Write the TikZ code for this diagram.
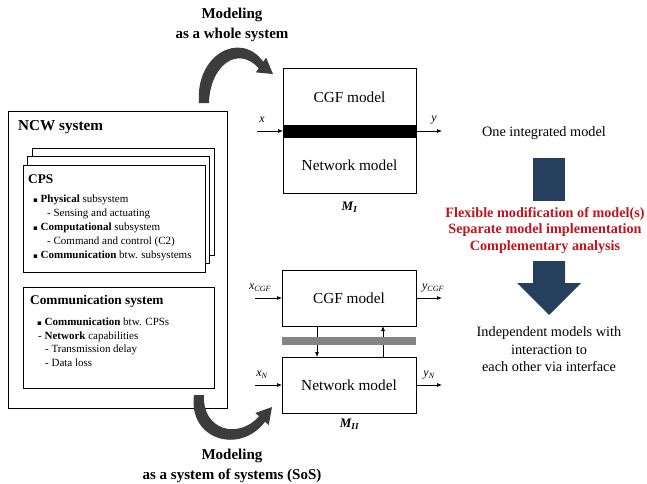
\documentclass[tikz,border=0pt]{standalone}
\usepackage{fontspec}
\setmainfont{Liberation Serif}
\newfontfamily\symfont{DejaVu Sans}
\usetikzlibrary{arrows.meta}
\definecolor{navy}{HTML}{263F5E}
\definecolor{redtxt}{HTML}{C0141B}
\definecolor{arrowgray}{HTML}{3C3C3C}
\definecolor{bargray}{HTML}{858585}
\newcommand{\bul}{{\symfont\fontsize{7}{7}\selectfont ▪}}
\begin{document}
\begin{tikzpicture}[x=1pt,y=-1pt,
  box/.style={draw, line width=0.8pt, fill=white, inner sep=0pt, outer sep=0pt, anchor=north west},
  txt/.style={font=\fontsize{11}{13}\selectfont, anchor=mid west, inner sep=0pt},
  ttl/.style={font=\fontsize{13.3}{15}\bfseries\selectfont, anchor=mid west, inner sep=0pt},
  model/.style={font=\fontsize{15.3}{18}\selectfont, inner sep=0pt},
  lab/.style={font=\fontsize{12}{14}\itshape\selectfont, inner sep=0pt},
  mlab/.style={font=\fontsize{13}{15}\bfseries\itshape\selectfont, inner sep=0pt},
  head/.style={font=\fontsize{15}{20}\bfseries\selectfont, align=center, inner sep=0pt},
  note/.style={font=\fontsize{14.3}{17.5}\selectfont, align=center, inner sep=0pt},
  redn/.style={font=\fontsize{14.2}{16.5}\bfseries\selectfont, align=center, inner sep=0pt, text=redtxt},
  arr/.style={line width=0.7pt, -{Latex[length=5pt,width=4pt]}},
  curv/.style={fill=arrowgray}
]
\useasboundingbox (0,0) rectangle (647,483);

% ---------------- NCW system ----------------
\node[box, minimum width=219, minimum height=297] (ncw) at (8,111) {};
\node[ttl, font=\fontsize{15.2}{17}\bfseries\selectfont] (ncwt) at (18,128) {NCW system};

\node[box, minimum width=182, minimum height=107] (cps3) at (32,148) {};
\node[box, minimum width=182, minimum height=107] (cps2) at (27.5,156.5) {};
\node[box, minimum width=182, minimum height=107] (cps1) at (23,165) {};
\node[ttl] (cpst) at (28,181) {CPS};
\node[txt] (l1) at (33,200) {\bul\ \textbf{Physical} subsystem};
\node[txt] (l2) at (47,214.5) {- Sensing and actuating};
\node[txt] (l3) at (33,228.5) {\bul\ \textbf{Computational} subsystem};
\node[txt] (l4) at (47,242.5) {- Command and control (C2)};
\node[txt] (l5) at (33,256.5) {\bul\ \textbf{Communication} btw. subsystems};

\node[box, minimum width=191, minimum height=101] (com) at (23,287) {};
\node[ttl] (comt) at (30,302) {Communication system};
\node[txt] (c1) at (37,323) {\bul\ \textbf{Communication} btw. CPSs};
\node[txt] (c2) at (38,337) {- \textbf{Network} capabilities};
\node[txt] (c3) at (45,350.5) {- Transmission delay};
\node[txt] (c4) at (45,364) {- Data loss};

% ---------------- Modeling labels and curved arrows ----------------
\node[head] (mtop) at (232,25) {Modeling\\as a whole system};
\node[head] (mbot) at (232,466) {Modeling\\as a system of systems (SoS)};

\fill[curv] (199,103) .. controls (195,55) and (240,30) .. (263.3,61.7)
  -- (266.1,57.6) -- (273,74) -- (255.9,72.4) -- (258.7,68.3)
  .. controls (238,45) and (210,65) .. (209,103) -- cycle;

\fill[curv] (194,395) .. controls (188,440) and (240,455) .. (265,421.7)
  -- (268.7,425) -- (272,407) -- (255.3,413) -- (259,416.3)
  .. controls (238,440) and (202,430) .. (204,395) -- cycle;

% ---------------- M_I ----------------
\node[box, minimum width=133, minimum height=125] (mI) at (283,68) {};
\node[box, fill=black, minimum width=133, minimum height=12] (barI) at (283,125) {};
\node[model] (cgfI) at (349.5,97) {CGF model};
\node[model] (netI) at (349.5,165) {Network model};
\node[mlab] (mIl) at (349.5,207) {M\textsubscript{I}};
\coordinate (xI) at (257,131);
\coordinate (yI) at (442,131);
\draw[arr] (xI) -- (barI.west);
\draw[arr] (barI.east) -- (yI);
\node[lab] (xIl) at (262,120) {x};
\node[lab] (yIl) at (434,120) {y};

% ---------------- M_II ----------------
\node[box, minimum width=134, minimum height=56] (cgf) at (282,270) {};
\node[box, minimum width=134, minimum height=56] (net) at (282,357) {};
\node[model] (cgft) at (cgf.center) {CGF model};
\node[model] (nett) at (net.center) {Network model};
\draw[arr] ([xshift=35]cgf.south west) -- ([xshift=35]net.north west);
\draw[arr] ([xshift=101]net.north west) -- ([xshift=101]cgf.south west);
\node[box, draw=none, fill=bargray, minimum width=134, minimum height=8] (barII) at (282,337) {};
\coordinate (xc) at (255,298);
\coordinate (yc) at (442,298);
\coordinate (xn) at (255,385);
\coordinate (yn) at (442,385);
\draw[arr] (xc) -- (xc -| cgf.west);
\draw[arr] (xc -| cgf.east) -- (yc);
\draw[arr] (xn) -- (xn -| net.west);
\draw[arr] (xn -| net.east) -- (yn);
\node[lab] (xcl) at (260,288) {x\textsubscript{CGF}};
\node[lab] (ycl) at (433,288) {y\textsubscript{CGF}};
\node[lab] (xnl) at (262,375) {x\textsubscript{N}};
\node[lab] (ynl) at (429,375) {y\textsubscript{N}};
\node[mlab] (mIIl) at (349.5,424) {M\textsubscript{II}};

% ---------------- right column ----------------
\node[note] (one) at (544,133) {One integrated model};
\fill[navy] (533,158) rectangle (565,201);
\node[redn] (red) at (545,230.5) {Flexible modification of model(s)\\Separate model implementation\\Complementary analysis};
\fill[navy] (533,261) -- (565,261) -- (565,283) -- (581,283) -- (549,315) -- (517,283) -- (533,283) -- cycle;
\node[note] (ind) at (549,349.5) {Independent models with\\interaction to\\each other via interface};
\end{tikzpicture}
\end{document}
